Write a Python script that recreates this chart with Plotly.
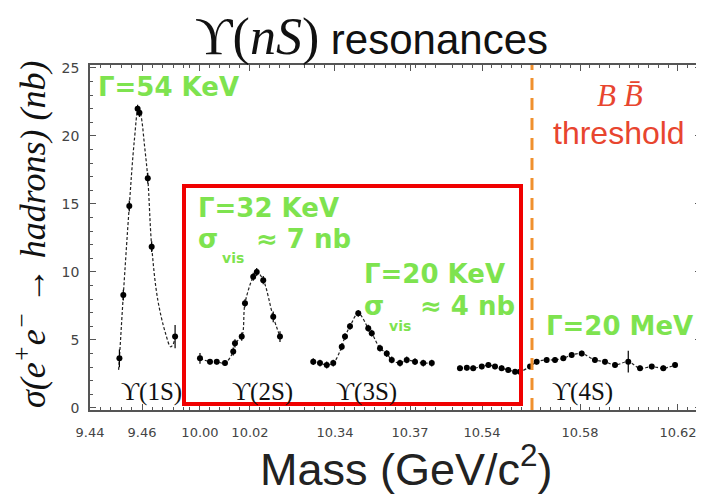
import plotly.graph_objects as go

# ---------------- data ----------------
# Upsilon(1S)
m1 = [9.4513, 9.4528, 9.4551, 9.4583, 9.4590, 9.4622, 9.4637, 9.4727]
s1 = [3.65, 8.3, 14.85, 22.0, 21.7, 16.9, 11.86, 5.25]
e1 = [0.65, 0.4, 0.4, 0.3, 0.3, 0.4, 0.4, 0.85]
fit1_m = [9.4510, 9.4513, 9.4528, 9.4551, 9.4570, 9.4586, 9.4596, 9.4610,
          9.4622, 9.4637, 9.4660, 9.4690, 9.4710, 9.4720, 9.4727]
fit1_s = [2.8, 3.65, 8.3, 14.85, 19.6, 22.1, 21.5, 19.2,
          16.9, 11.9, 8.0, 5.5, 4.5, 4.7, 5.3]

# Upsilon(2S)
m2 = [10.0000, 10.0040, 10.0067, 10.0100, 10.0133, 10.0140, 10.0167,
      10.0180, 10.0213, 10.0227, 10.0253, 10.0293, 10.0320]
s2 = [3.65, 3.4, 3.4, 3.3, 4.15, 4.75, 5.25, 7.7, 9.65, 10.0, 9.4, 6.7, 5.25]
e2 = [0.4, 0.2, 0.2, 0.2, 0.3, 0.3, 0.3, 0.3, 0.3, 0.3, 0.3, 0.4, 0.4]

# Upsilon(3S)
m3 = [10.3313, 10.3340, 10.3367, 10.3393, 10.3427, 10.3440, 10.3460, 10.3493,
      10.3533, 10.3547, 10.3580, 10.3607, 10.3627, 10.3660, 10.3687, 10.3720,
      10.3753, 10.3787]
s3 = [3.4, 3.3, 3.16, 3.3, 4.5, 5.25, 6.0, 6.96,
      5.86, 5.5, 4.4, 4.0, 3.53, 3.3, 3.53, 3.4, 3.3, 3.3]
e3 = [0.25] * len(m3)

# Upsilon(4S) region
m4 = [10.5310, 10.5338, 10.5364, 10.5399, 10.5426, 10.5453, 10.5480, 10.5507,
      10.5535, 10.5555, 10.5596, 10.5623, 10.5664, 10.5698, 10.5732, 10.5766,
      10.5807, 10.5861, 10.5902, 10.5943, 10.5997, 10.6045, 10.6093, 10.6140,
      10.6188]
s4 = [2.92, 2.96, 2.92, 3.04, 3.16, 3.04, 2.92, 2.8,
      2.67, 2.67, 3.04, 3.4, 3.53, 3.53, 3.65, 3.9,
      4.0, 3.53, 3.4, 3.16, 3.4, 2.92, 3.04, 2.92, 3.16]
e4 = [0.2] * 20 + [0.8] + [0.2] * 4

bb_threshold = 10.5604

# axis segments: (range, tick values, tick labels)
seg_ranges = [[9.44, 9.4765], [9.994, 10.040], [10.326, 10.384], [10.5249, 10.6298]]
seg_tickvals = [[9.44, 9.46], [10.00, 10.02], [10.34, 10.37], [10.54, 10.58, 10.62]]
seg_ticktext = [["9.44", "9.46"], ["10.00", "10.02"], ["10.34", "10.37"],
                ["10.54", "10.58", "10.62"]]
seg_domains = [[0.0, 0.1552], [0.1552, 0.3431], [0.3431, 0.5801], [0.5801, 1.0]]
y_range = [-0.15, 25.22]
y_ticks = [0, 5, 10, 15, 20, 25]

# ---------------- figure ----------------
fig = go.Figure()

pt_marker = dict(color="black", size=6)


def err(e):
    return dict(type="data", array=e, visible=True, color="black",
                thickness=1.2, width=0)


fit_line = dict(color="#222", width=1.2, dash="3px,2px")

fig.add_trace(go.Scatter(x=fit1_m, y=fit1_s, mode="lines", line=fit_line,
                         line_shape="spline", xaxis="x", yaxis="y", hoverinfo="skip"))
fig.add_trace(go.Scatter(x=m1, y=s1, mode="markers", marker=pt_marker,
                         error_y=err(e1), xaxis="x", yaxis="y"))

for m, s, e, ax in [(m2, s2, e2, "x2"), (m3, s3, e3, "x3"), (m4, s4, e4, "x4")]:
    fig.add_trace(go.Scatter(x=m, y=s, mode="lines+markers", line=fit_line,
                             line_shape="spline", marker=pt_marker,
                             error_y=err(e), xaxis=ax, yaxis="y"))

# invisible trace for the right-hand mirror y axis
fig.add_trace(go.Scatter(x=[m4[0]], y=[0], mode="markers", opacity=0,
                         xaxis="x4", yaxis="y2", hoverinfo="skip"))

axis_color = "#555"
tickfont = dict(family="DejaVu Sans", size=13, color="#444")

# page body has an 8px margin: figure is 696x487 so that it fills the 704x495 window
layout = dict(
    width=696, height=487,
    margin=dict(l=82, r=2, t=57, b=85, autoexpand=False),
    paper_bgcolor="white", plot_bgcolor="white",
    showlegend=False,
)
for i in range(4):
    name = "xaxis" if i == 0 else f"xaxis{i+1}"
    layout[name] = dict(
        domain=seg_domains[i], range=seg_ranges[i], anchor="y",
        tickmode="array", tickvals=seg_tickvals[i], ticktext=seg_ticktext[i],
        ticks="inside", ticklen=6, tickwidth=1.2, tickcolor=axis_color,
        showline=True, linecolor=axis_color, linewidth=1.5, mirror="ticks",
        showgrid=False, zeroline=False, tickfont=tickfont, ticklabelstandoff=10,
        minor=dict(tickmode="linear", tick0=9.0, dtick=0.004, ticks="inside",
                   ticklen=3, tickcolor=axis_color, showgrid=False),
    )
layout["yaxis"] = dict(
    range=y_range, anchor="x", tickmode="array", tickvals=y_ticks,
    ticks="inside", ticklen=6, tickwidth=1.2, tickcolor=axis_color,
    showline=True, linecolor=axis_color, linewidth=1.5,
    showgrid=False, zeroline=False, ticklabelstandoff=6,
    tickfont=dict(family="DejaVu Sans", size=14, color="#444"),
    minor=dict(tickmode="linear", tick0=0, dtick=1, ticks="inside", ticklen=3,
               tickcolor=axis_color, showgrid=False),
)
layout["yaxis2"] = dict(
    range=y_range, overlaying="y", side="right", anchor="free", position=1.0,
    tickmode="array", tickvals=y_ticks, showticklabels=False,
    ticks="inside", ticklen=6, tickwidth=1.2, tickcolor=axis_color,
    showline=True, linecolor=axis_color, linewidth=1.5,
    showgrid=False, zeroline=False,
    minor=dict(tickmode="linear", tick0=0, dtick=1, ticks="inside", ticklen=3,
               tickcolor=axis_color, showgrid=False),
)
fig.update_layout(**layout)


# helpers: window pixel -> paper fraction (plot area spans x 90..702, y 65..410 on screen)
def px(x):
    return (x - 90) / 612.0


def py(y):
    return (410 - y) / 345.0


green = "#7ee34f"
gfont = dict(family="DejaVu Sans", size=26, color=green)
subfont = dict(family="DejaVu Sans", size=14, color=green)
ann = []


def text(x, y, t, font, xanchor="left", angle=0):
    ann.append(dict(x=px(x), y=py(y), xref="paper", yref="paper", text=t,
                    showarrow=False, font=font, xanchor=xanchor, yanchor="middle",
                    textangle=angle))


text(96, 87, "<b>Γ=54 KeV</b>", gfont)
text(196, 208, "<b>Γ=32 KeV</b>", gfont)
text(196, 239, "<b>σ</b>", gfont)
text(220, 258, "<b>vis</b>", subfont)
text(254, 239, "<b>≈ 7 nb</b>", gfont)
text(362, 274, "<b>Γ=20 KeV</b>", gfont)
text(362, 306, "<b>σ</b>", gfont)
text(387, 326, "<b>vis</b>", subfont)
text(418, 306, "<b>≈ 4 nb</b>", gfont)
text(544, 326, "<b>Γ=20 MeV</b>", gfont)

red = "#e8452f"
text(620, 95, "<i>B B̄</i>", dict(family="Liberation Serif", size=31, color=red), "center")
text(619, 133, "threshold", dict(family="Liberation Sans", size=32, color=red), "center")

lab = dict(family="Liberation Serif", size=25, color="#111")
text(151, 392, "ϒ(1S)", lab, "center")
text(262, 392, "ϒ(2S)", lab, "center")
text(366, 392, "ϒ(3S)", lab, "center")
text(582, 392, "ϒ(4S)", lab, "center")

text(371, 37, '<span style="font-family:Liberation Serif;font-size:52px">ϒ(<i>nS</i>)</span> resonances',
     dict(family="Liberation Sans", size=42, color="#111"), "center")
text(406, 466, "Mass (GeV/c<sup>2</sup>)",
     dict(family="Liberation Sans", size=45, color="#222"), "center")
text(30, 235, "<i>σ(e<sup>+</sup>e<sup>−</sup> → hadrons) (nb)</i>",
     dict(family="Liberation Serif", size=36, color="#111"), "center", -90)

fig.update_layout(annotations=ann)

shapes = [
    dict(type="line", xref="x4", x0=bb_threshold, x1=bb_threshold,
         yref="paper", y0=0, y1=1, line=dict(color="#f0902e", width=3, dash="12px,8px")),
    dict(type="rect", xref="paper", yref="paper", x0=px(184), x1=px(521),
         y0=py(404), y1=py(186), line=dict(color="#f00000", width=4)),
]
fig.update_layout(shapes=shapes)

fig.write_html("out.html")
